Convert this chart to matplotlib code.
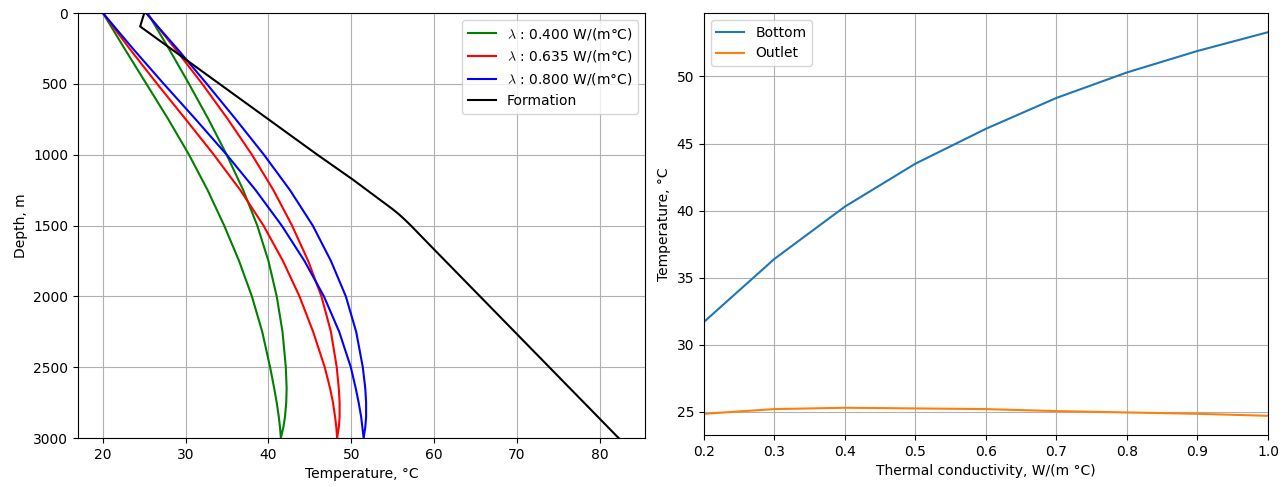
import matplotlib
matplotlib.use("Agg")
import matplotlib.pyplot as plt
import numpy as np

plt.rcParams['mathtext.fontset'] = 'cm'

# ---------------- data ----------------
depth = [0, 250, 500, 750, 1000, 1250, 1500, 1750, 2000, 2250, 2500, 2650, 2750, 2850, 2925, 3000]

# down-flow (inlet) and up-flow (return) branches for each conductivity
green_down = [20.0, 22.6, 25.25, 27.9, 30.4, 32.65, 34.65, 36.45, 38.0, 39.25, 40.2, 40.7, 41.0, 41.25, 41.4, 41.5]
green_up   = [25.4, 27.95, 30.4, 32.75, 34.95, 36.95, 38.65, 40.0, 41.0, 41.7, 42.1, 42.2, 42.15, 42.0, 41.8, 41.5]
red_down   = [20.0, 23.2, 26.55, 30.0, 33.4, 36.6, 39.4, 41.75, 43.75, 45.4, 46.8, 47.45, 47.8, 48.05, 48.2, 48.3]
red_up     = [25.3, 28.7, 32.0, 35.1, 38.0, 40.6, 42.85, 44.8, 46.4, 47.55, 48.25, 48.5, 48.6, 48.6, 48.5, 48.3]
blue_down  = [20.0, 23.6, 27.35, 31.2, 34.95, 38.45, 41.6, 44.35, 46.7, 48.55, 49.95, 50.55, 50.9, 51.2, 51.35, 51.5]
blue_up    = [25.2, 28.95, 32.55, 36.05, 39.45, 42.6, 45.35, 47.55, 49.35, 50.6, 51.4, 51.7, 51.8, 51.8, 51.7, 51.5]

formation_depth = [0, 95, 1000, 1176, 1315, 1380, 1420, 1460, 1500, 1560, 1671, 3000]
formation_temp  = [25.0, 24.5, 45.9, 50.2, 53.4, 54.9, 55.75, 56.5, 57.2, 58.2, 60.05, 82.3]

series_labels = [r'$\lambda$ : 0.400 W/(m°C)', r'$\lambda$ : 0.635 W/(m°C)', r'$\lambda$ : 0.800 W/(m°C)']
series_colors = ['green', 'red', 'blue']

conductivity = [0.2, 0.3, 0.4, 0.5, 0.6, 0.7, 0.8, 0.9, 1.0]
bottom_temp  = [31.7, 36.4, 40.3, 43.5, 46.1, 48.4, 50.3, 51.9, 53.3]
outlet_temp  = [24.85, 25.2, 25.3, 25.25, 25.2, 25.05, 24.95, 24.85, 24.7]

# ---------------- figure ----------------
fig = plt.figure(figsize=(12.86, 4.87), dpi=100)
ax1 = fig.add_axes([0.0607, 0.1006, 0.4409, 0.8727])
ax2 = fig.add_axes([0.5474, 0.1068, 0.4386, 0.8665])

downs = [green_down, red_down, blue_down]
ups = [green_up, red_up, blue_up]
for d_branch, u_branch, lab, col in zip(downs, ups, series_labels, series_colors):
    temps = list(d_branch) + list(u_branch[::-1])
    deps = list(depth) + list(depth[::-1])
    ax1.plot(temps, deps, color=col, label=lab, lw=1.5)
ax1.plot(formation_temp, formation_depth, color='black', label='Formation', lw=1.5)

ax1.set_ylim(3000, 0)
ax1.set_xlim(17.0, 85.5)
ax1.set_xticks([20, 30, 40, 50, 60, 70, 80])
ax1.set_yticks([0, 500, 1000, 1500, 2000, 2500, 3000])
ax1.set_xlabel('Temperature, °C')
ax1.set_ylabel('Depth, m')
ax1.grid(True)
ax1.legend(loc='upper right')

ax2.plot(conductivity, bottom_temp, label='Bottom')
ax2.plot(conductivity, outlet_temp, label='Outlet')
ax2.set_xlim(0.2, 1.0)
ax2.set_xticks(conductivity)
ax2.set_xlabel('Thermal conductivity, W/(m °C)')
ax2.set_ylabel('Temperature, °C')
ax2.grid(True)
ax2.legend(loc='upper left')

fig.savefig('out.png', dpi=100)
